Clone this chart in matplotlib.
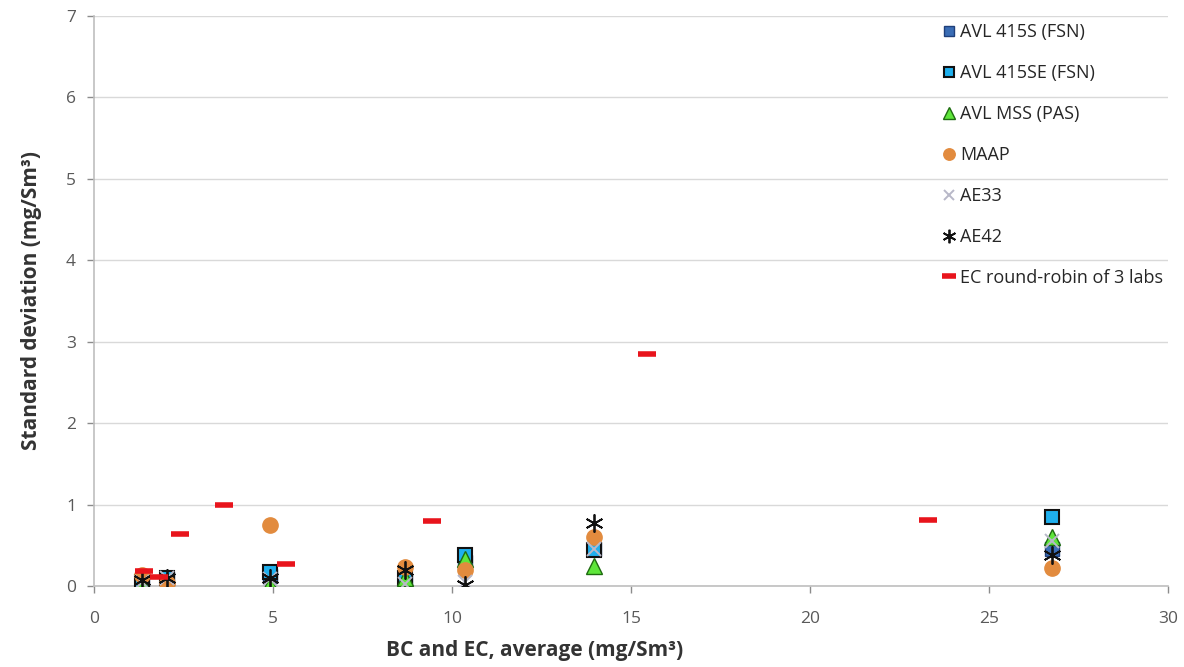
import matplotlib
matplotlib.use("Agg")
import matplotlib.pyplot as plt

plt.rcParams['font.family'] = ['Open Sans', 'DejaVu Sans']

# Average BC/EC concentration of each test point (mg/Sm3)
bc_avg = [1.33, 2.05, 4.93, 8.69, 10.36, 13.97, 26.76]

# Standard deviation per instrument (mg/Sm3)
avl_415s = [0.05, 0.08, 0.12, 0.05, 0.30, 0.45, 0.45]
avl_415se = [0.05, 0.10, 0.17, 0.10, 0.38, 0.44, 0.85]
avl_mss = [0.02, 0.06, 0.03, 0.10, 0.33, 0.25, 0.60]
maap = [0.13, 0.04, 0.75, 0.23, 0.20, 0.60, 0.22]
ae33 = [0.05, 0.10, 0.08, 0.03, 0.05, 0.45, 0.55]
ae42 = [0.07, 0.10, 0.10, 0.20, 0.01, 0.77, 0.38]

# EC round-robin (3 labs)
ec_avg = [1.40, 1.82, 2.40, 3.63, 5.36, 9.44, 15.45, 23.30]
ec_sd = [0.18, 0.11, 0.64, 1.00, 0.27, 0.80, 2.85, 0.81]

x_ticks = [0, 5, 10, 15, 20, 25, 30]
y_ticks = [0, 1, 2, 3, 4, 5, 6, 7]

fig = plt.figure(figsize=(11.84, 6.67), dpi=100)
ax = fig.add_axes([94 / 1184, 1 - 586 / 667, 1074 / 1184, 570 / 667])

ax.plot(bc_avg, avl_415s, ls='none', marker='s', ms=10, mfc='#3A6DB5',
        mec='#1F3F7A', mew=1.0, label='AVL 415S (FSN)', zorder=3)
ax.plot(bc_avg, avl_415se, ls='none', marker='s', ms=10, mfc='#1FB0EE',
        mec='#111111', mew=1.5, label='AVL 415SE (FSN)', zorder=3)
ax.plot(bc_avg, avl_mss, ls='none', marker='^', ms=11, mfc='#5EE63A',
        mec='#1E6B10', mew=1.0, label='AVL MSS (PAS)', zorder=3)
ax.plot(bc_avg, maap, ls='none', marker='o', ms=11, mfc='#E28B3E',
        mec='#E28B3E', mew=1.0, label='MAAP', zorder=3)
ax.plot(bc_avg, ae33, ls='none', marker='x', ms=10, mfc='none',
        mec='#B8B8C8', mew=1.4, label='AE33', zorder=3)
ax.plot(bc_avg, ae42, ls='none', marker=(6, 2, 0), ms=13, mfc='none',
        mec='#111111', mew=1.3, label='AE42', zorder=3)
ax.plot(ec_avg, ec_sd, ls='none', marker='_', ms=13, mfc='#E8141C',
        mec='#E8141C', mew=4, label='EC round-robin of 3 labs', zorder=4)

ax.set_xlim(0, 30)
ax.set_ylim(0, 7)
ax.set_xticks(x_ticks)
ax.set_yticks(y_ticks)
ax.tick_params(axis='both', colors='#8C8C8C', labelcolor='#595959',
               labelsize=12.5, length=5, width=1)
ax.tick_params(axis='x', pad=13)
ax.tick_params(axis='y', pad=8)

ax.grid(axis='y', color='#D9D9D9', lw=1)
ax.set_axisbelow(True)
for side in ('top', 'right'):
    ax.spines[side].set_visible(False)
for side in ('left', 'bottom'):
    ax.spines[side].set_color('#BFBFBF')
    ax.spines[side].set_linewidth(1.2)

ax.set_xlabel('BC and EC, average (mg/Sm³)', fontsize=15, fontweight='bold',
              color='#333333')
ax.xaxis.set_label_coords((535 - 94) / 1074, -0.095)
ax.set_ylabel('Standard deviation (mg/Sm³)', fontsize=15, fontweight='bold',
              color='#333333')
ax.yaxis.set_label_coords((42 - 94) / 1074, 0.5)

leg = ax.legend(loc='upper left', bbox_to_anchor=(0.783, 1.0), frameon=False,
                fontsize=13, labelspacing=1.27, handlelength=0.8,
                handletextpad=0.2, markerscale=0.75, borderaxespad=0)
for t in leg.get_texts():
    t.set_color('#262626')

fig.savefig('out.png', dpi=100)
